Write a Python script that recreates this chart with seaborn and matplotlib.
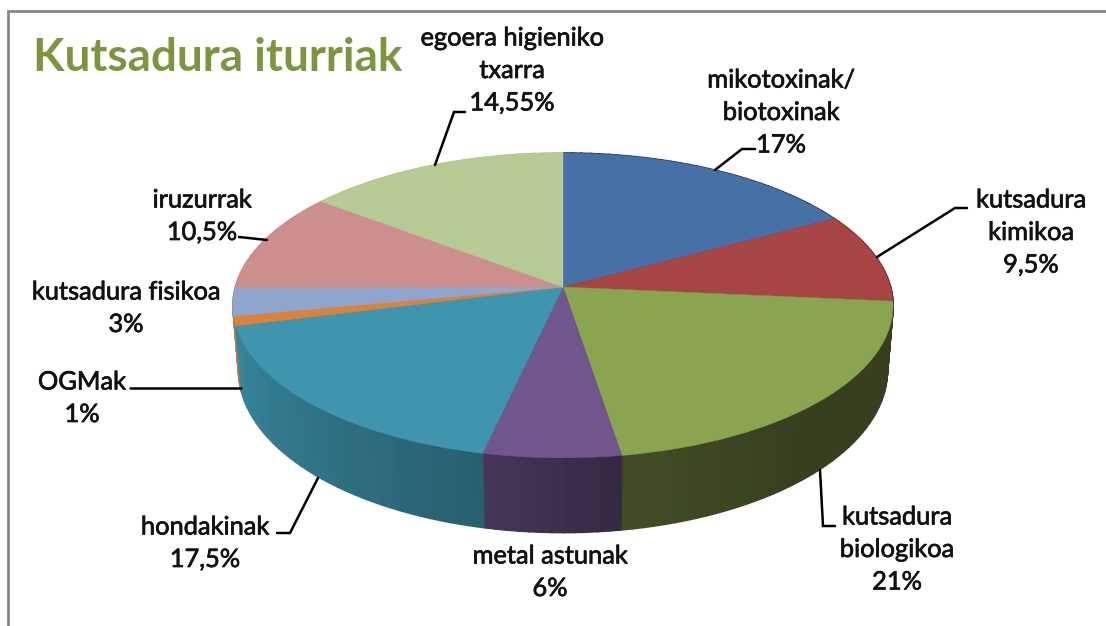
import numpy as np
import seaborn as sns
import matplotlib
matplotlib.use("Agg")
import matplotlib.pyplot as plt
import matplotlib.patheffects as pe
from matplotlib.transforms import Transform

title = "Kutsadura iturriak"
values = [17, 9.5, 21, 6, 17.5, 1, 3, 10.5, 14.55]
slice_colors = ["#4571A6", "#A74444", "#8AA54F", "#6F568C", "#3F95AE",
                "#DA8238", "#8FA5CE", "#CD8E8E", "#B6CA94"]
label_lines = [
    ["mikotoxinak/", "biotoxinak", "17%"],
    ["kutsadura", "kimikoa", "9,5%"],
    ["kutsadura", "biologikoa", "21%"],
    ["metal astunak", "6%"],
    ["hondakinak", "17,5%"],
    ["OGMak", "1%"],
    ["kutsadura fisikoa", "3%"],
    ["iruzurrak", "10,5%"],
    ["egoera higieniko", "txarra", "14,55%"],
]
label_x = [781, 1031, 897, 550, 205, 82, 126, 202, 512]
label_y = [80, 200, 517, 556, 527, 382, 292, 200, 38]
leaders = [
    [(715, 170), (742, 149), (755, 149)],
    [(877, 257), (955, 208), (967, 208)],
    [(820, 470), (823, 526), (835, 526)],
    [],
    [(318, 478), (290, 533), (277, 533)],
    [(241, 388), (130, 388)],
    [],
    [(267, 240), (239, 237)],
    [(435, 165), (454, 112), (465, 112)],
]


class Tilt(Transform):
    # unit circle -> picture pixels, near side of the pie comes out bigger
    input_dims = 2
    output_dims = 2

    def __init__(self, k, y0, a, c=0.121, x0=563):
        super().__init__()
        self.k, self.y0, self.a, self.c, self.x0 = k, y0, a, c, x0

    def transform_non_affine(self, xy):
        xy = np.asarray(xy)
        w = 1 + self.c * xy[:, 1]
        return np.column_stack([self.x0 + self.k * xy[:, 0] / w,
                                self.y0 - self.a * xy[:, 1] / w])


def shade(color, angle):
    f = np.interp(angle, [97, 140, 172, 193, 260, 275],
                  [0.39, 0.39, 0.48, 0.64, 0.92, 0.95])
    return tuple(np.array(matplotlib.colors.to_rgb(color)) * f)


def draw_pie(vals, cols, tilt, lw):
    wedges, _ = ax.pie(vals, colors=cols, startangle=90, counterclock=False)
    for w in wedges:
        w.set_edgecolor(w.get_facecolor())
        w.set_linewidth(lw)
        w.set_transform(tilt + ax.transData)


sns.set_theme(style="white")
plt.rcParams["font.family"] = ["Lato", "DejaVu Sans"]

fig = plt.figure(figsize=(11.06, 6.26), dpi=100)
ax = fig.add_axes([0, 0, 1, 1])

# side wall: stack of pies from the bottom disc up, each slice cut in strips
seg_vals, seg_cols = [], []
done = 0
for v, col in zip(values, sns.color_palette(slice_colors)):
    n = max(1, int(v / 0.5))
    for i in range(n):
        mid = (done + v * (i + 0.5) / n) / sum(values) * 360
        seg_vals.append(v / n)
        seg_cols.append(shade(col, mid))
    done += v

for t in np.linspace(1, 0, 60):
    draw_pie(seg_vals, seg_cols, Tilt(327.6 - 5.6 * t, 287 + 63.5 * t, 150.2 + 9.8 * t), 1.2)

draw_pie(values, slice_colors, Tilt(327.6, 287, 150.2), 0.3)

ax.set_aspect("auto")
ax.set_xlim(0, 1106)
ax.set_ylim(626, 0)

# frame, only left and top are inside the crop
ax.plot([8, 8, 1106], [626, 11, 11], color="#868686", lw=2, solid_joinstyle="miter")

ax.text(33, 58, title, color="#7B963F", fontsize=33, fontweight="bold",
        ha="left", va="center")

# lato has no real semibold here, thicken the regular a little
thick = [pe.withStroke(linewidth=0.5, foreground="#111111")]
for lines, x, y, pts in zip(label_lines, label_x, label_y, leaders):
    for i, s in enumerate(lines):
        ax.text(x, y + i * 32.5, s, color="#111111", fontsize=18.3,
                ha="center", va="center", path_effects=thick)
    if pts:
        ax.plot(*zip(*pts), color="black", lw=1.8, solid_joinstyle="miter")

fig.savefig("out.png", dpi=100)
